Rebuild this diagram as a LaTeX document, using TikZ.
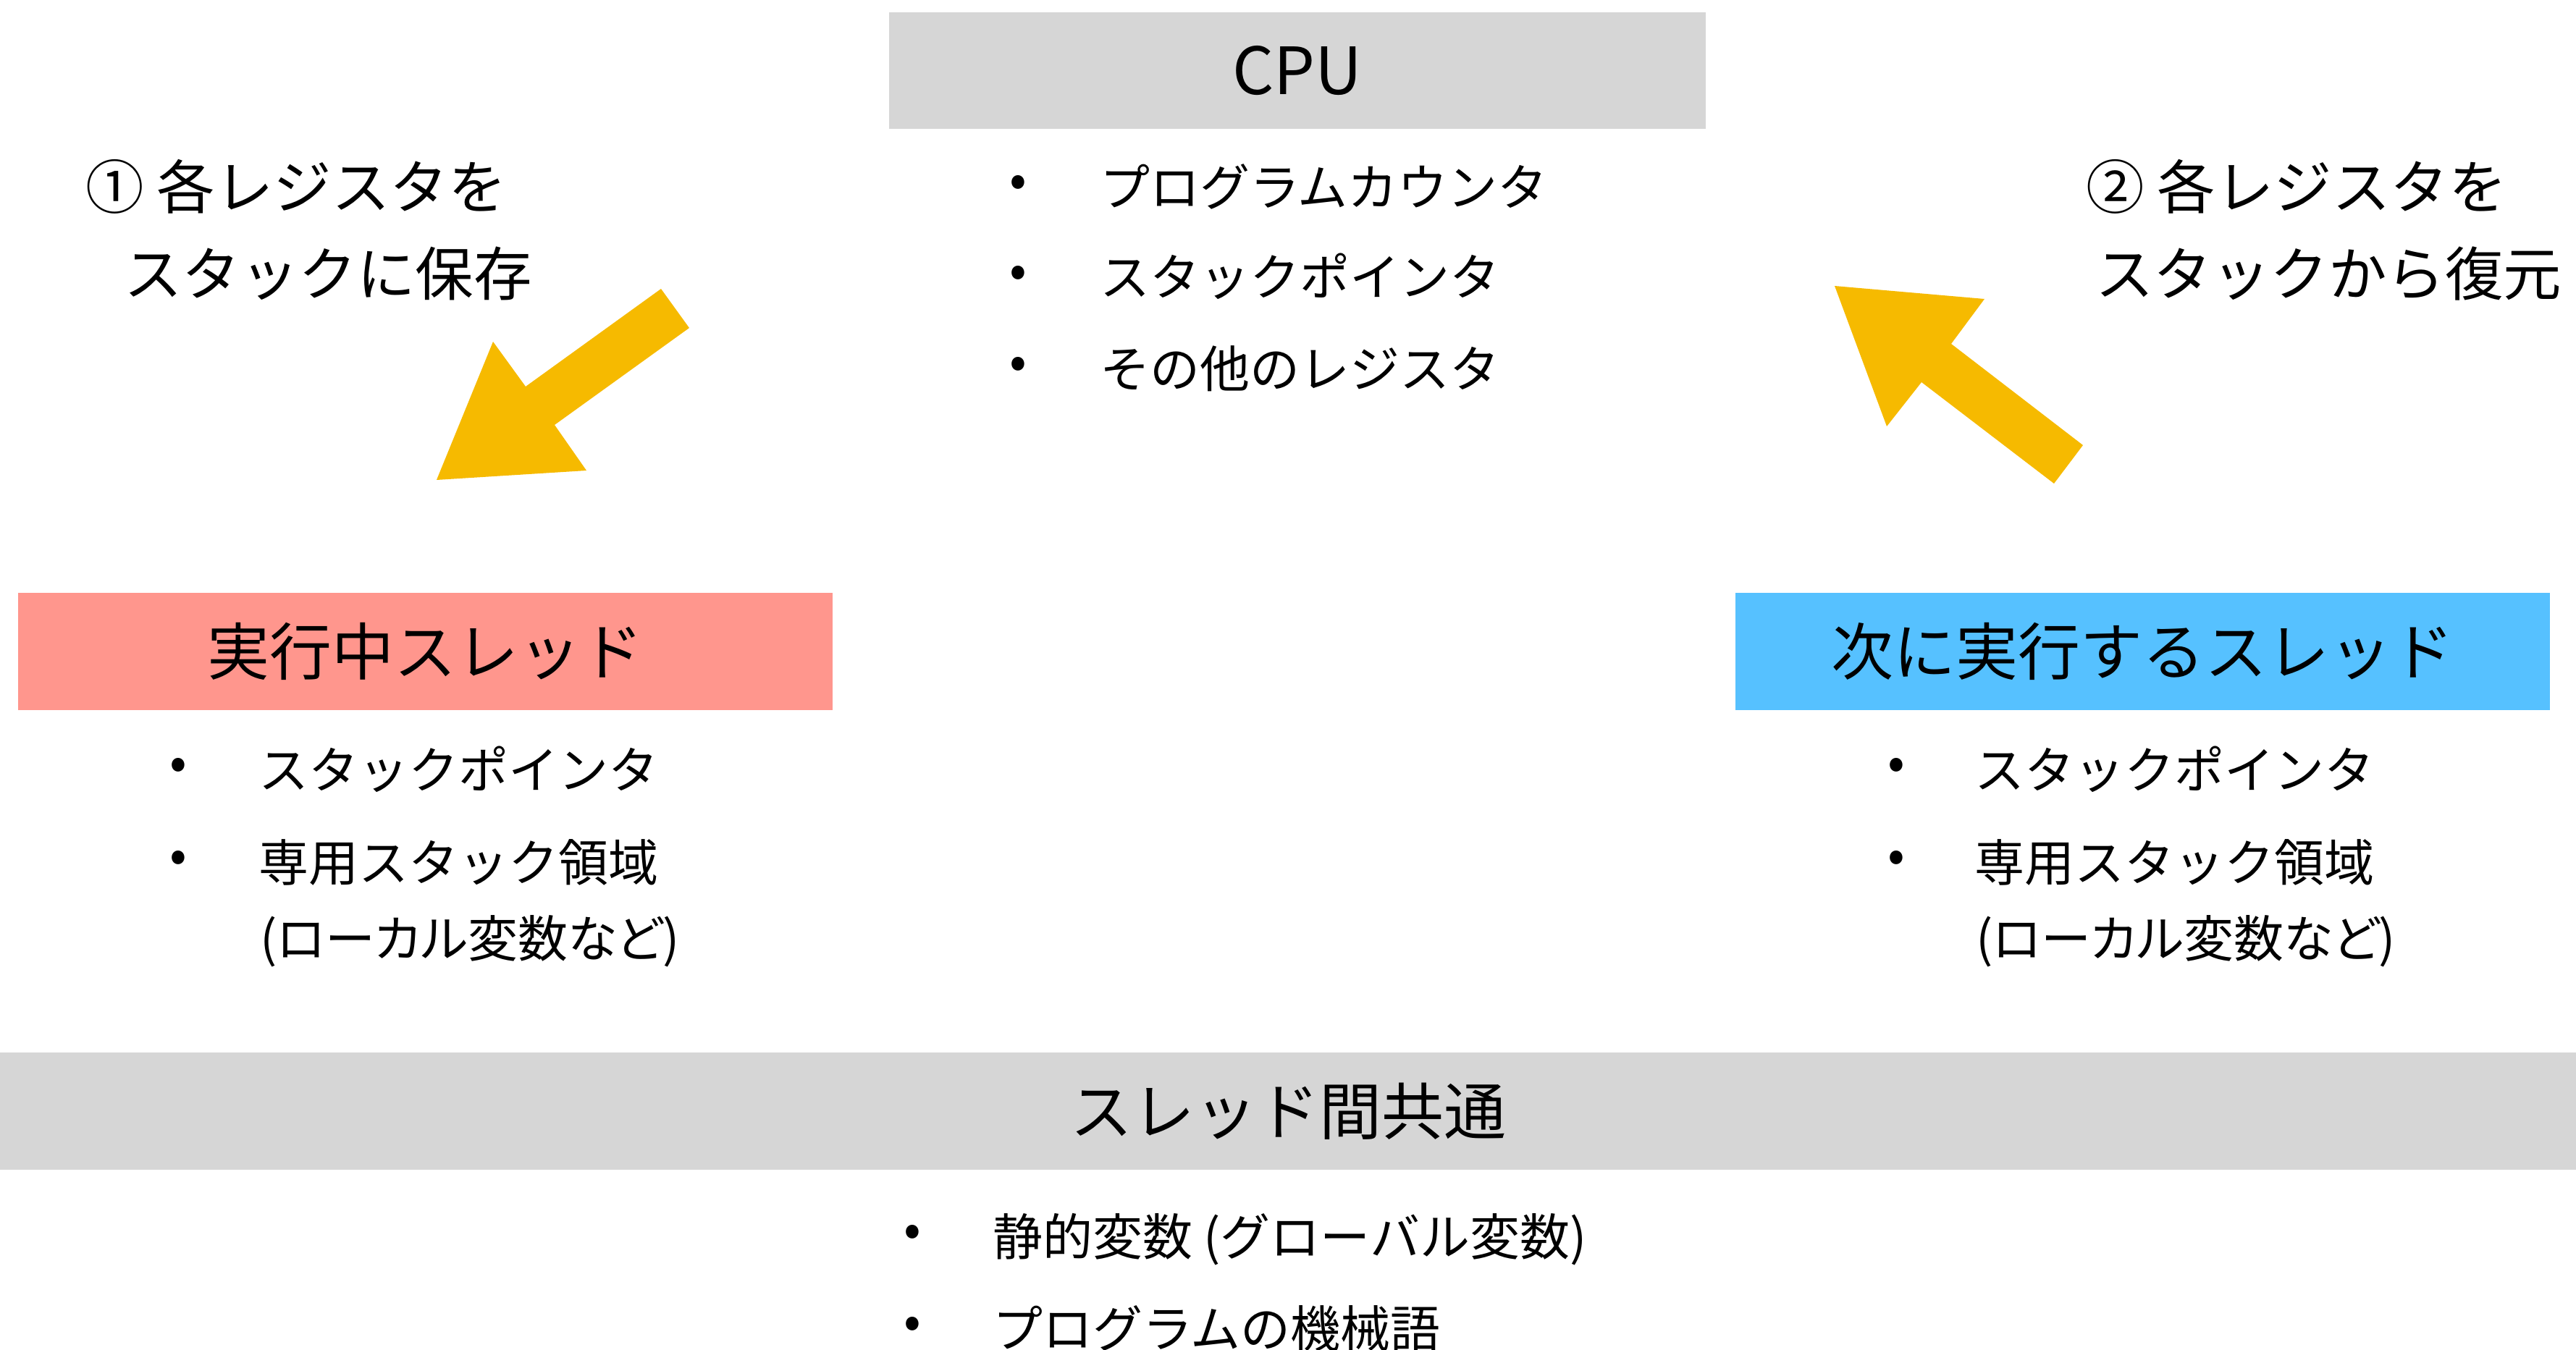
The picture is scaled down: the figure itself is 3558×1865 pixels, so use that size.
\documentclass[tikz,border=0pt]{standalone}
\usepackage{fontspec}
\setmainfont{Noto Sans CJK JP}
\definecolor{bandgray}{HTML}{D6D6D6}
\definecolor{salmon}{HTML}{FF968D}
\definecolor{sky}{HTML}{56C1FF}
\definecolor{arrowyellow}{HTML}{F6BA00}
\begin{document}
\begin{tikzpicture}[x=0.2pt,y=-0.2pt,
  box/.style={inner sep=0pt, minimum width=225pt, minimum height=32.3pt,
    font=\fontsize{17.2pt}{20pt}\selectfont},
  item/.style={anchor=base west, inner sep=0pt, font=\fontsize{13.8pt}{17pt}\selectfont},
  note/.style={item, font=\fontsize{13.8pt}{17pt}\selectfont\addfontfeatures{RawFeature=+palt}},
  bul/.style={anchor=center, inner sep=0pt, font=\fontsize{14pt}{17pt}\selectfont},
  lab/.style={anchor=base west, inner sep=0pt, font=\fontsize{16.1pt}{20pt}\selectfont},
  blockarrow/.style={fill=arrowyellow, draw=none}]
\useasboundingbox (0,0) rectangle (3558,1865);

% CPU
\node[box, fill=bandgray, minimum width=225.6pt, font=\fontsize{18pt}{20pt}\selectfont] (cpu) at (1792,97.5) {CPU};
\node[bul] (cb1) at (1406,257) {•};
\node[item] (ci1) at (1518,284) {プログラムカウンタ};
\node[bul] (cb2) at (1406,382) {•};
\node[item] (ci2) at (1518,409) {スタックポインタ};
\node[bul] (cb3) at (1406,508) {•};
\node[item] (ci3) at (1518,535) {その他のレジスタ};

% labels
\node[lab] (l1a) at (117,289) {① 各レジスタを};
\node[lab] (l1b) at (170,409) {スタックに保存};
\node[lab] (l2a) at (2880,289) {② 各レジスタを};
\node[lab] (l2b) at (2893,409) {スタックから復元};

% block arrows
\fill[blockarrow] (913,399) -- (952,453) -- (766,587) -- (810,650) -- (603,663)
  -- (681,472) -- (726,534) -- cycle;
\fill[blockarrow] (2534,395) -- (2741,413) -- (2695,475) -- (2877,615) -- (2837,668)
  -- (2654,528) -- (2606,589) -- cycle;

% running thread
\node[box, fill=salmon] (run) at (587.5,900) {実行中スレッド};
\node[bul] (rb1) at (246,1062) {•};
\node[item] (ri1) at (356,1089) {スタックポインタ};
\node[bul] (rb2) at (246,1190) {•};
\node[item] (ri2) at (356,1217) {専用スタック領域};
\node[note] (ri3) at (358,1322) {(ローカル変数など)};

% next thread
\node[box, fill=sky] (next) at (2959.5,900) {次に実行するスレッド};
\node[bul] (nb1) at (2619,1062) {•};
\node[item] (ni1) at (2726,1089) {スタックポインタ};
\node[bul] (nb2) at (2619,1190) {•};
\node[item] (ni2) at (2726,1217) {専用スタック領域};
\node[note] (ni3) at (2728,1322) {(ローカル変数など)};

% shared
\node[box, fill=bandgray, minimum width=711.6pt] (shared) at (1779,1535) {スレッド間共通};
\node[bul] (sb1) at (1260,1707) {•};
\node[item] (si1) at (1370,1734) {静的変数 (グローバル変数)};
\node[bul] (sb2) at (1260,1834) {•};
\node[item] (si2) at (1370,1861) {プログラムの機械語};
\end{tikzpicture}
\end{document}
